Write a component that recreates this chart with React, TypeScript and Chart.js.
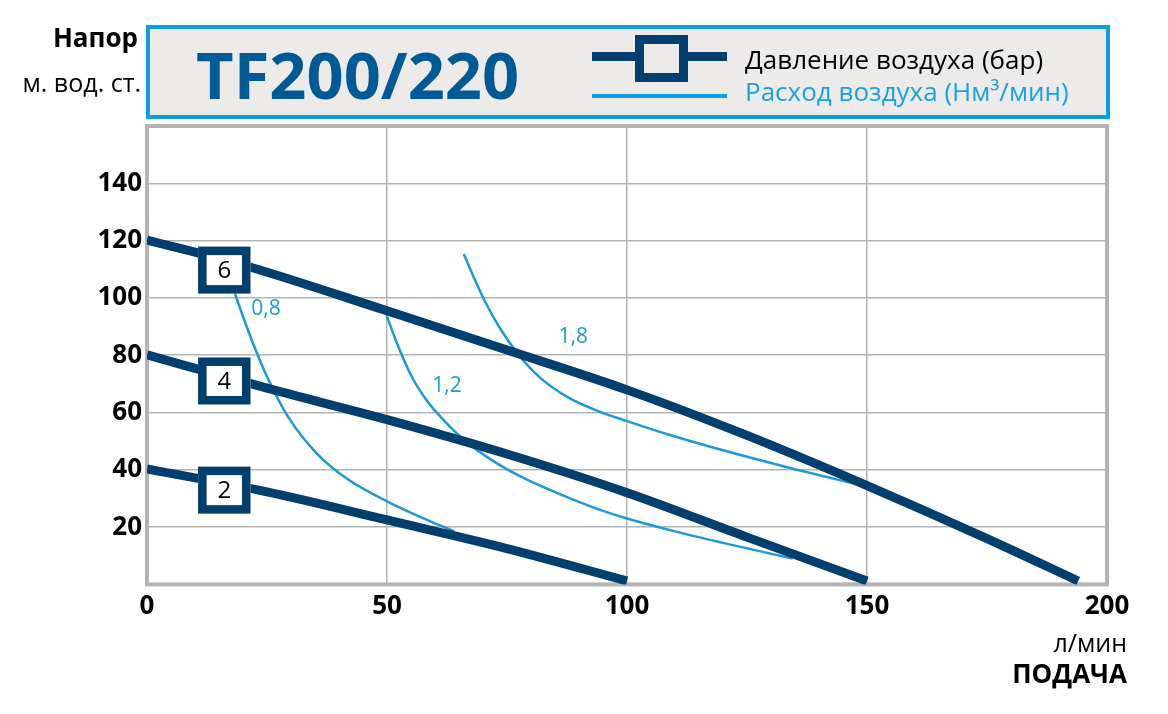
import React, { useEffect, useRef } from "react";
import { Chart, registerables } from "chart.js";

Chart.register(...registerables);

const FONT = "'Open Sans', 'Noto Sans', sans-serif";
const NAVY = "#003F6E";
const SKY = "#1B9AD7";
const GRID = "#B3B3B3";

// axis ticks
const xTicks = [0, 50, 100, 150, 200];
const yTicks = [20, 40, 60, 80, 100, 120, 140];

// pressure curves (bar): flow l/min -> head m
const p6X = [0, 20, 50, 75, 100, 125, 150, 175, 194];
const p6Y = [120.2, 111.5, 95.5, 81.8, 67.9, 52, 34.5, 16, 1.2];
const p4X = [0, 25, 50, 75, 100, 125, 150];
const p4Y = [80.1, 68.5, 57.5, 45.5, 32, 16.5, 1.2];
const p2X = [0, 25, 50, 75, 100];
const p2Y = [40.3, 32.3, 22.5, 12.5, 1.2];

// air consumption curves (Nm3/min)
const a08X = [18.3, 20, 22, 25, 29.4, 35.5, 42, 50, 57, 64];
const a08Y = [101.6, 93.5, 84.5, 72.5, 58.5, 45.5, 36.5, 29, 23.5, 18.5];
const a12X = [49.9, 52, 55, 58.2, 62, 66, 72, 78, 86, 94.4, 100, 110, 120, 134.5];
const a12Y = [94, 84.5, 73, 64.4, 57, 50.5, 43.2, 37.5, 31.5, 26, 23, 18.5, 14.5, 9];
const a18X = [66, 68, 70.5, 73.5, 77.5, 82, 88, 94, 100, 110, 120, 135, 150.2];
const a18Y = [115.3, 107.5, 98.5, 89.5, 80, 72, 65, 60.5, 57, 51.6, 46.8, 40.2, 34];

// pressure label boxes
const boxLabels = ["6", "4", "2"];
const boxX = [16.1, 16.1, 16.1];
const boxY = [109.7, 71, 32.9];

// air consumption labels
const airLabels = ["0,8", "1,2", "1,8"];
const airLabelX = [24.8, 62.5, 88.8];
const airLabelY = [96.2, 69.2, 86.3];

const pts = (xs: number[], ys: number[]) => xs.map((x, i) => ({ x, y: ys[i] }));

const annotPlugin = {
  id: "annot",
  beforeDatasetsDraw(chart: any) {
    const { ctx, chartArea } = chart;
    ctx.save();
    ctx.strokeStyle = GRID;
    ctx.lineWidth = 4;
    ctx.strokeRect(chartArea.left, chartArea.top, chartArea.right - chartArea.left, chartArea.bottom - chartArea.top);
    ctx.restore();
  },
  afterDatasetsDraw(chart: any) {
    const { ctx } = chart;
    const xs = chart.scales.x;
    const ys = chart.scales.y;
    ctx.save();
    // air labels
    ctx.fillStyle = SKY;
    ctx.font = `21px ${FONT}`;
    ctx.textAlign = "center";
    ctx.textBaseline = "middle";
    airLabels.forEach((t, i) => {
      ctx.fillText(t, xs.getPixelForValue(airLabelX[i]), ys.getPixelForValue(airLabelY[i]));
    });
    // boxes
    const bw = 52.4;
    const bh = 47;
    const lw = 8.5;
    boxLabels.forEach((t, i) => {
      const px = xs.getPixelForValue(boxX[i]);
      const py = ys.getPixelForValue(boxY[i]);
      ctx.fillStyle = "#FFFFFF";
      ctx.fillRect(px - bw / 2, py - bh / 2, bw, bh);
      ctx.strokeStyle = NAVY;
      ctx.lineWidth = lw;
      ctx.strokeRect(px - bw / 2 + lw / 2, py - bh / 2 + lw / 2, bw - lw, bh - lw);
      ctx.fillStyle = "#000000";
      ctx.font = `24px ${FONT}`;
      ctx.textAlign = "center";
      ctx.textBaseline = "middle";
      ctx.fillText(t, px, py + 1);
    });
    ctx.restore();
  },
};

export default function App() {
  const ref = useRef<HTMLCanvasElement | null>(null);

  useEffect(() => {
    if (!ref.current) return;
    const navyDs = (label: string, xs: number[], ys: number[]) => ({
      label,
      data: pts(xs, ys),
      borderColor: NAVY,
      borderWidth: 9,
      pointRadius: 0,
      fill: false,
      cubicInterpolationMode: "monotone" as const,
      borderCapStyle: "butt" as const,
    });
    const skyDs = (label: string, xs: number[], ys: number[]) => ({
      label,
      data: pts(xs, ys),
      borderColor: SKY,
      borderWidth: 2.5,
      pointRadius: 0,
      fill: false,
      cubicInterpolationMode: "monotone" as const,
      borderCapStyle: "butt" as const,
    });
    const chart = new Chart(ref.current, {
      type: "line",
      data: {
        datasets: [
          navyDs("6 бар", p6X, p6Y),
          navyDs("4 бар", p4X, p4Y),
          navyDs("2 бар", p2X, p2Y),
          skyDs("0,8", a08X, a08Y),
          skyDs("1,2", a12X, a12Y),
          skyDs("1,8", a18X, a18Y),
        ],
      },
      options: {
        responsive: false,
        animation: false,
        devicePixelRatio: 1,
        layout: { padding: { left: 0, right: 61, top: 126, bottom: 89.6 } },
        plugins: { legend: { display: false }, tooltip: { enabled: false } },
        scales: {
          x: {
            type: "linear",
            min: 0,
            max: 200,
            afterBuildTicks: (s: any) => {
              s.ticks = xTicks.map((v) => ({ value: v }));
            },
            afterFit: (s: any) => {
              s.height = 40;
            },
            grid: { color: GRID, lineWidth: 1.5, drawTicks: false },
            border: { display: false },
            ticks: {
              padding: 7,
              color: "#000",
              font: { family: FONT, size: 26, weight: "bold" },
              maxRotation: 0,
            },
          },
          y: {
            type: "linear",
            min: 0,
            max: 160,
            afterBuildTicks: (s: any) => {
              s.ticks = yTicks.map((v) => ({ value: v }));
            },
            afterFit: (s: any) => {
              s.width = 147;
            },
            grid: { color: GRID, lineWidth: 1.5, drawTicks: false },
            border: { display: false },
            ticks: {
              padding: 5,
              color: "#000",
              font: { family: FONT, size: 26, weight: "bold" },
            },
          },
        },
      },
      plugins: [annotPlugin],
    });
    return () => chart.destroy();
  }, []);

  const abs = (s: React.CSSProperties): React.CSSProperties => ({
    position: "absolute",
    whiteSpace: "nowrap",
    lineHeight: 1,
    fontFamily: FONT,
    margin: 0,
    ...s,
  });

  return (
    <div style={{ position: "absolute", left: 0, top: 0, width: 1168, height: 714, background: "#fff", overflow: "hidden" }}>
      <canvas ref={ref} width={1168} height={714} style={{ position: "absolute", left: 0, top: 0, width: 1168, height: 714 }} />
      {/* header box */}
      <div style={{ position: "absolute", left: 146, top: 25, width: 964, height: 94, boxSizing: "border-box", border: "4px solid #0AA0DF", background: "#ECEBE9" }} />
      <div style={abs({ right: 1168 - 138, top: 23.6, fontSize: 26, fontWeight: 700, color: "#000" })}>Напор</div>
      <div style={abs({ right: 1168 - 141, top: 69.5, fontSize: 25, color: "#000" })}>м. вод. ст.</div>
      <div style={abs({ left: 196, top: 42.3, fontSize: 65, fontWeight: 700, color: "#005A96" })}>TF200/220</div>
      {/* legend symbols */}
      <div style={{ position: "absolute", left: 592, top: 52.3, width: 135, height: 8.7, background: NAVY }} />
      <div style={{ position: "absolute", left: 635, top: 35, width: 53, height: 47, boxSizing: "border-box", border: `9px solid ${NAVY}`, background: "#ECEBE9" }} />
      <div style={{ position: "absolute", left: 592, top: 93.7, width: 135, height: 4, background: "#0AA0DF" }} />
      <div style={abs({ left: 745, top: 46.4, fontSize: 26, color: "#000" })}>Давление воздуха (бар)</div>
      <div style={abs({ left: 745, top: 78.4, fontSize: 26, color: "#1BA1E2" })}>Расход воздуха (Нм³/мин)</div>
      {/* x axis titles */}
      <div style={abs({ right: 1168 - 1127, top: 629.5, fontSize: 25, color: "#000" })}>л/мин</div>
      <div style={abs({ right: 1168 - 1127, top: 660.2, fontSize: 26, fontWeight: 700, color: "#000" })}>ПОДАЧА</div>
    </div>
  );
}
